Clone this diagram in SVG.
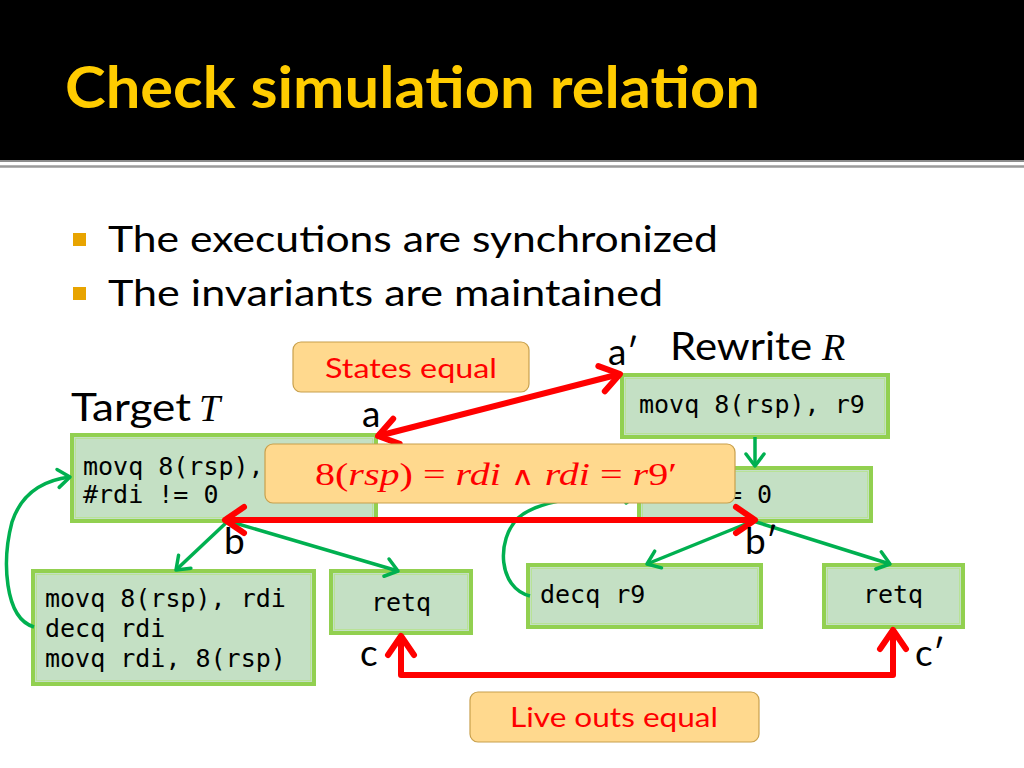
<svg xmlns="http://www.w3.org/2000/svg" width="1024" height="768" viewBox="0 0 1024 768">
<defs>
<style>
.box{fill:#c4e0c4;stroke:#92d050;stroke-width:4}
.inner{fill:none;stroke:#b8e296;stroke-width:1}
.code{font-family:"DejaVu Sans Mono","Liberation Mono",monospace;font-size:25px;fill:#000}
.lbl{fill:#ffd98e;stroke:#c8a04c;stroke-width:1.2}
.lbltxt{font-family:Lato,"Open Sans",sans-serif;font-size:27px;fill:#ff0000}
.txt{font-family:Lato,"Open Sans",sans-serif;fill:#000}
.math{font-family:"Liberation Serif",serif;font-style:italic}
.red{fill:none;stroke:#ff0000;stroke-width:6;stroke-linejoin:round}
.grn{fill:none;stroke:#00b050;stroke-width:3.5;stroke-linejoin:round}
</style>
<marker id="rh" viewBox="0 0 30 30" markerWidth="30" markerHeight="30" refX="24" refY="15" markerUnits="userSpaceOnUse" orient="auto-start-reverse" overflow="visible">
<path d="M5,2 L24,15 L5,28" fill="none" stroke="#ff0000" stroke-width="6" stroke-linejoin="round" stroke-linecap="round"/>
</marker>
<marker id="gh" viewBox="0 0 24 24" markerWidth="24" markerHeight="24" refX="18" refY="12" markerUnits="userSpaceOnUse" orient="auto" overflow="visible">
<path d="M6,3 L18,12 L6,21" fill="none" stroke="#00b050" stroke-width="3.5" stroke-linejoin="round" stroke-linecap="round"/>
</marker>
</defs>
<rect x="0" y="0" width="1024" height="768" fill="#ffffff"/>
<g id="header">
<rect x="0" y="0" width="1024" height="160" fill="#000"/>
<line x1="0" y1="161" x2="1024" y2="161" stroke="#8c8c8c" stroke-width="2"/>
<line x1="0" y1="166.5" x2="1024" y2="166.5" stroke="#9a9a9a" stroke-width="2.5"/>
<text x="65" y="108" font-family="Lato,'Open Sans',sans-serif" font-weight="bold" font-size="58" fill="#ffcc00" textLength="695" lengthAdjust="spacingAndGlyphs">Check simulation relation</text>
</g>
<g id="bullets">
<rect x="73" y="233" width="13" height="13" fill="#e8a400"/>
<rect x="73" y="287" width="13" height="13" fill="#e8a400"/>
<text class="txt" x="108" y="252" font-size="37" textLength="610" lengthAdjust="spacingAndGlyphs">The executions are synchronized</text>
<text class="txt" x="108" y="306" font-size="37" textLength="555" lengthAdjust="spacingAndGlyphs">The invariants are maintained</text>
</g>
<g id="titles">
<text class="txt" x="71" y="421" font-size="38" textLength="120" lengthAdjust="spacingAndGlyphs">Target</text>
<text class="math" x="199" y="421" font-size="38">T</text>
<text class="txt" x="670" y="360" font-size="38" textLength="142" lengthAdjust="spacingAndGlyphs">Rewrite</text>
<text class="math" x="822" y="360" font-size="38">R</text>
</g>
<g id="T1">
<rect class="box" x="72" y="435" width="304" height="86"/>
<rect class="inner" x="75.5" y="438.5" width="297" height="79"/>
<text class="code" x="83" y="475">movq 8(rsp),</text>
<text class="code" x="83" y="503">#rdi != 0</text>
</g>
<g id="T2">
<rect class="box" x="33" y="571" width="281" height="113"/>
<rect class="inner" x="36.5" y="574.5" width="274" height="106"/>
<text class="code" x="45" y="607">movq 8(rsp), rdi</text>
<text class="code" x="45" y="637">decq rdi</text>
<text class="code" x="45" y="667">movq rdi, 8(rsp)</text>
</g>
<g id="T3">
<rect class="box" x="331" y="571" width="140" height="62"/>
<rect class="inner" x="334.5" y="574.5" width="133" height="55"/>
<text class="code" x="401" y="611" text-anchor="middle">retq</text>
</g>
<g id="R1">
<rect class="box" x="622" y="375" width="266" height="62"/>
<rect class="inner" x="625.5" y="378.5" width="259" height="55"/>
<text class="code" x="639" y="413">movq 8(rsp), r9</text>
</g>
<g id="R2">
<rect class="box" x="639" y="468" width="232" height="53"/>
<rect class="inner" x="642.5" y="471.5" width="225" height="46"/>
<text class="code" x="727" y="503">= 0</text>
</g>
<g id="R3">
<rect class="box" x="528" y="565" width="233" height="62"/>
<rect class="inner" x="531.5" y="568.5" width="226" height="55"/>
<text class="code" x="540" y="603">decq r9</text>
</g>
<g id="R4">
<rect class="box" x="824" y="565" width="139" height="62"/>
<rect class="inner" x="827.5" y="568.5" width="132" height="55"/>
<text class="code" x="893" y="603" text-anchor="middle">retq</text>
</g>
<g id="connectors">
<line class="grn" x1="755" y1="437" x2="755" y2="466" marker-end="url(#gh)"/>
<line class="grn" x1="228" y1="521" x2="176" y2="570" marker-end="url(#gh)"/>
<line class="grn" x1="228" y1="521" x2="398" y2="571" marker-end="url(#gh)"/>
<path class="grn" d="M34,627 C4,618 2,560 12,522 C22,492 45,480 70,477" marker-end="url(#gh)"/>
<line class="grn" x1="753" y1="521" x2="647" y2="564" marker-end="url(#gh)"/>
<line class="grn" x1="753" y1="521" x2="890" y2="564" marker-end="url(#gh)"/>
<path class="grn" d="M530,596 C498,588 496,540 518,518 C540,498 600,494 638,494" marker-end="url(#gh)"/>
<line class="red" x1="378" y1="436" x2="620" y2="374" marker-start="url(#rh)" marker-end="url(#rh)"/>
<line class="red" x1="225" y1="520" x2="755" y2="520" marker-start="url(#rh)" marker-end="url(#rh)"/>
<path class="red" d="M401,636 L401,675 L893,675 L893,630" marker-start="url(#rh)" marker-end="url(#rh)"/>
</g>
<g id="letters">
<text class="txt" x="362" y="427" font-size="37">a</text>
<text class="txt" x="608" y="365" font-size="37">a′</text>
<text class="txt" x="224" y="554" font-size="37">b</text>
<text class="txt" x="745" y="554" font-size="37">b′</text>
<text class="txt" x="360" y="666" font-size="37">c</text>
<text class="txt" x="915" y="666" font-size="37">c′</text>
</g>
<g id="states-equal">
<rect class="lbl" x="293" y="342" width="236" height="50" rx="8"/>
<text class="lbltxt" x="325" y="378" textLength="172" lengthAdjust="spacingAndGlyphs">States equal</text>
</g>
<g id="invariant">
<rect class="lbl" x="265" y="444" width="470" height="59" rx="8"/>
<text x="315" y="485" font-family="'Liberation Serif','DejaVu Serif',serif" font-size="32" fill="#ff0000" textLength="362" lengthAdjust="spacingAndGlyphs">8(<tspan font-style="italic">rsp</tspan>) = <tspan font-style="italic">rdi</tspan> <tspan font-family="'DejaVu Sans',sans-serif" font-size="26">∧</tspan> <tspan font-style="italic">rdi</tspan> = <tspan font-style="italic">r</tspan>9′</text>
</g>
<g id="live-outs">
<rect class="lbl" x="470" y="692" width="289" height="50" rx="8"/>
<text class="lbltxt" x="510" y="727" textLength="208" lengthAdjust="spacingAndGlyphs">Live outs equal</text>
</g>
</svg>
